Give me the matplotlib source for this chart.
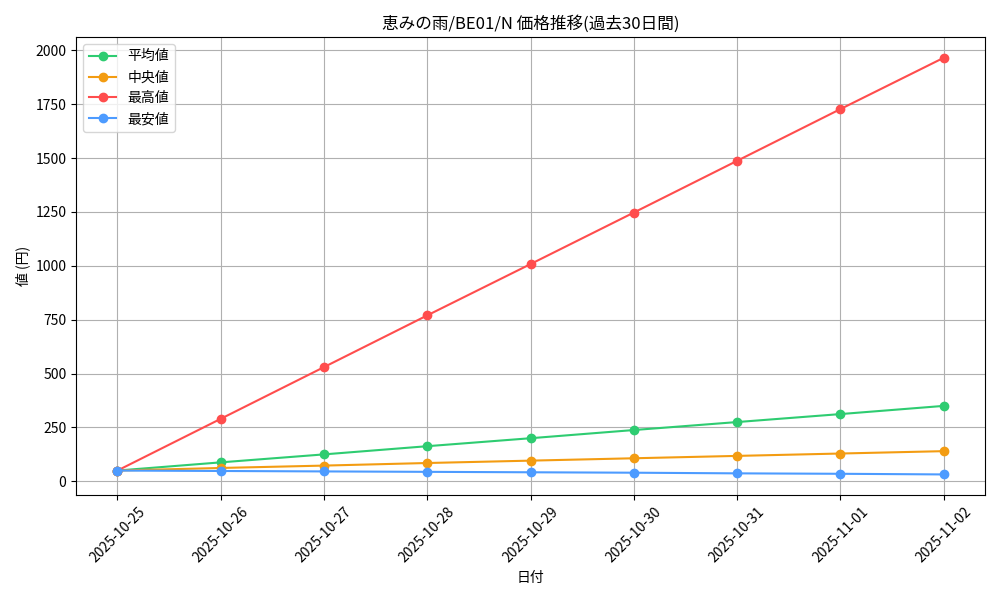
import matplotlib
matplotlib.use("Agg")
import matplotlib.pyplot as plt

plt.rcParams['font.family'] = ['Noto Sans CJK JP', 'DejaVu Sans']

dates = ["2025-10-25", "2025-10-26", "2025-10-27", "2025-10-28", "2025-10-29",
         "2025-10-30", "2025-10-31", "2025-11-01", "2025-11-02"]
avg = [50, 88, 125, 163, 200, 238, 275, 312, 350]
median = [50, 62, 73, 85, 96, 107, 118, 129, 140]
high = [50, 290, 530, 770, 1008, 1247, 1487, 1727, 1965]
low = [50, 48, 46, 44, 42, 40, 37, 35, 32]

fig, ax = plt.subplots(figsize=(10, 6), dpi=100)
x = range(len(dates))
ax.plot(x, avg, marker='o', color='#2ecc71', label='平均値')
ax.plot(x, median, marker='o', color='#f39c12', label='中央値')
ax.plot(x, high, marker='o', color='#ff4d4d', label='最高値')
ax.plot(x, low, marker='o', color='#4d9bff', label='最安値')
ax.set_xticks(list(x))
ax.set_xticklabels(dates, rotation=45)
ax.set_title('恵みの雨/BE01/N 価格推移(過去30日間)')
ax.set_xlabel('日付')
ax.set_ylabel('値 (円)')
ax.grid(True)
ax.legend(loc='upper left')
fig.tight_layout()
fig.savefig('out.png')
